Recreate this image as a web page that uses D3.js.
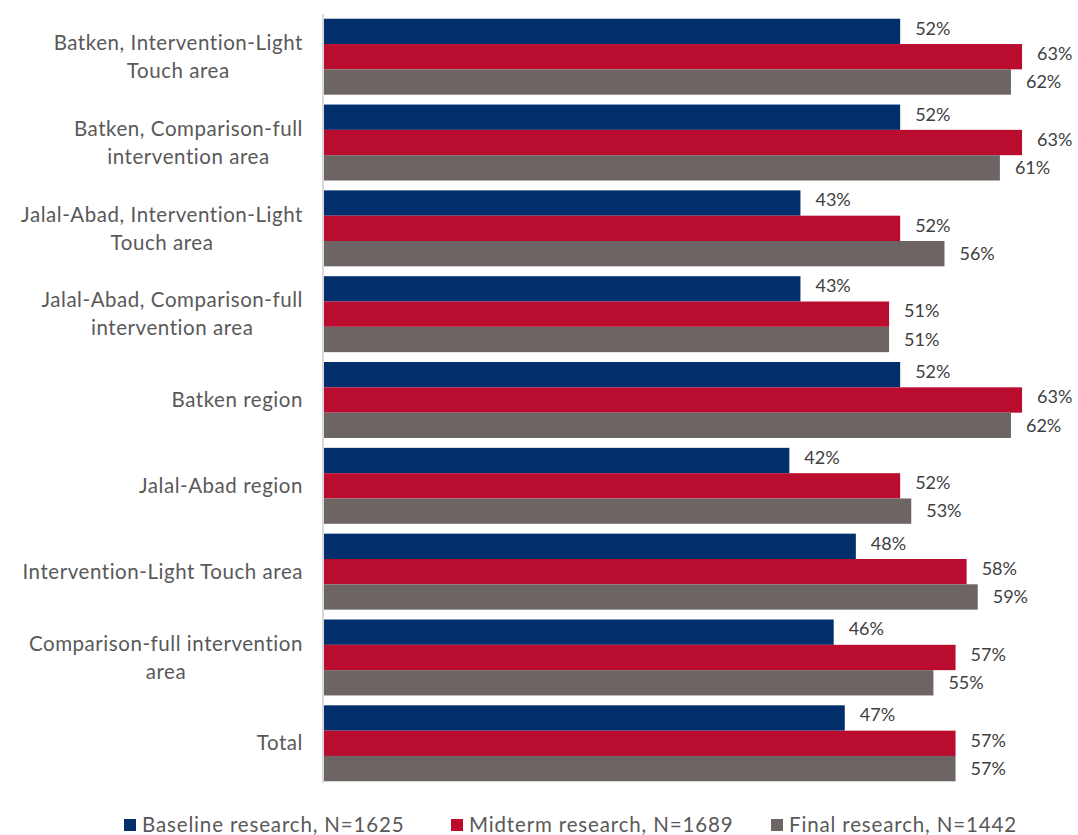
<!DOCTYPE html>
<html>
<head>
<meta charset="utf-8">
<script src="https://cdn.jsdelivr.net/npm/d3@7"></script>
<style>
  html, body { margin: 0; padding: 0; background: #fff; }
  svg { display: block; font-family: "Lato", "Open Sans", sans-serif; }
</style>
</head>
<body>
<svg id="chart" width="1078" height="835"></svg>
<script>
// Categories (label lines) and the three survey waves
const categories = [
  ["Batken, Intervention-Light", "Touch area"],
  ["Batken, Comparison-full", "intervention area"],
  ["Jalal-Abad, Intervention-Light", "Touch area"],
  ["Jalal-Abad, Comparison-full", "intervention area"],
  ["Batken region"],
  ["Jalal-Abad region"],
  ["Intervention-Light Touch area"],
  ["Comparison-full intervention", "area"],
  ["Total"]
];
const seriesNames = ["Baseline research, N=1625", "Midterm research, N=1689", "Final research, N=1442"];
const baseline = [52, 52, 43, 43, 52, 42, 48, 46, 47];
const midterm  = [63, 63, 52, 51, 63, 52, 58, 57, 57];
const final    = [62, 61, 56, 51, 62, 53, 59, 55, 57];
const colors = ["#002F6C", "#BA0C2F", "#6D6563"];

const series = [baseline, midterm, final];
const svg = d3.select("#chart");

const margin = { left: 324, top: 14, bottom: 50 };
const plotBottom = 786;

const x = d3.scaleLinear().domain([0, 100]).range([margin.left, margin.left + 1108]);
const y = d3.scaleBand()
  .domain(d3.range(categories.length))
  .range([margin.top, plotBottom])
  .paddingInner(0.115)
  .paddingOuter(0.055);
const ySub = d3.scaleBand().domain([0, 1, 2]).range([0, y.bandwidth()]);

// bars and value labels
series.forEach((vals, si) => {
  const g = svg.append("g");
  g.selectAll("rect")
    .data(vals)
    .join("rect")
    .attr("x", x(0))
    .attr("y", (d, i) => y(i) + ySub(si))
    .attr("width", d => x(d) - x(0))
    .attr("height", ySub.bandwidth())
    .attr("fill", colors[si]);
  g.selectAll("text")
    .data(vals)
    .join("text")
    .attr("x", d => x(d) + 15)
    .attr("y", (d, i) => y(i) + ySub(si) + ySub.bandwidth() / 2 - (si === 2 ? 0 : 3))
    .attr("dy", "0.35em")
    .attr("font-size", 18)
    .attr("fill", "#404040")
    .text(d => d + "%");
});

// vertical axis line
svg.append("line")
  .attr("x1", x(0) - 1).attr("x2", x(0) - 1)
  .attr("y1", margin.top).attr("y2", plotBottom - 3)
  .attr("stroke", "#D9D9D9").attr("stroke-width", 2);

// category labels: each block right-aligned at the axis, lines centred within the block
const labelRight = 303;
const lineH = 28;
categories.forEach((lines, i) => {
  const cy = y(i) + y.bandwidth() / 2;
  const t = svg.append("text")
    .attr("font-size", 20.5)
    .attr("letter-spacing", 0.55)
    .attr("fill", "#595959")
    .attr("text-anchor", "middle");
  const spans = lines.map((ln, k) =>
    t.append("tspan")
      .attr("y", cy + (k - (lines.length - 1) / 2) * lineH)
      .attr("dy", "0.35em")
      .text(ln));
  const w = d3.max(spans, s => s.node().getComputedTextLength());
  spans.forEach(s => s.attr("x", labelRight - w / 2));
});

// legend
const legendX = [124, 451, 771];
const legendY = 825;
seriesNames.forEach((name, si) => {
  svg.append("rect")
    .attr("x", legendX[si]).attr("y", legendY - 6)
    .attr("width", 12).attr("height", 12)
    .attr("fill", colors[si]);
  svg.append("text")
    .attr("x", legendX[si] + 18)
    .attr("y", legendY)
    .attr("dy", "0.35em")
    .attr("font-size", 20.5)
    .attr("letter-spacing", 0.85)
    .attr("fill", "#595959")
    .text(name);
});
</script>
</body>
</html>
